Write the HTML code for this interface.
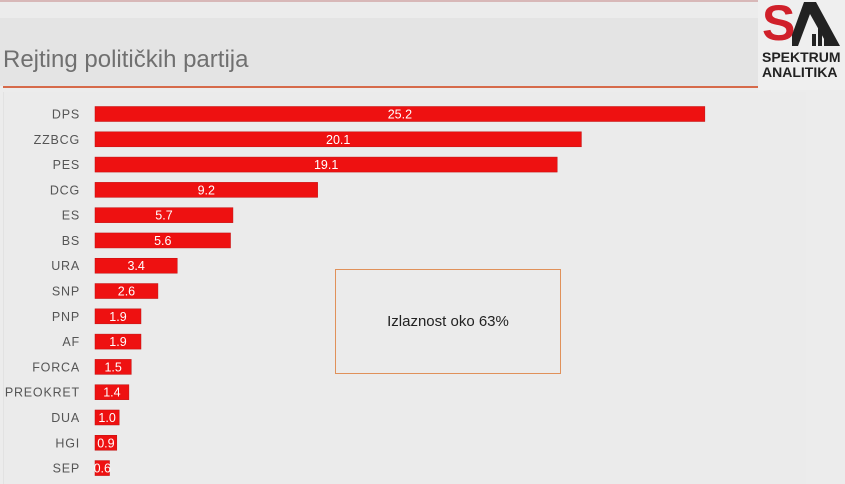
<!DOCTYPE html>
<html><head><meta charset="utf-8"><style>
body{margin:0;width:845px;height:484px;overflow:hidden;background:#ececec;font-family:"Liberation Sans",sans-serif;position:relative}
</style></head><body>
<div style="position:absolute;left:0;top:0;width:845px;height:2px;background:#d8b8b8"></div>
<div style="position:absolute;left:0;top:18px;width:805px;height:68px;background:#e4e4e4"></div>
<div style="position:absolute;left:3px;top:46px;font-size:24px;color:#707070;font-weight:300">Rejting političkih partija</div>
<div style="position:absolute;left:3px;top:86px;width:802px;height:2px;background:#d66a4a"></div>
<div style="position:absolute;left:758px;top:0;width:87px;height:90px;background:#efefef">
<div style="position:absolute;left:4px;top:-6px;font-size:50px;font-weight:bold;color:#d0202a;letter-spacing:-4px">S</div>
<svg style="position:absolute;left:34px;top:2px" width="52" height="44"><polygon points="12,0 24,0 48,44 36,44 18,12 6,44 -4,44" fill="#222"/><rect x="20" y="32" width="4" height="12" fill="#222"/><rect x="26" y="26" width="4" height="18" fill="#222"/><rect x="32" y="22" width="4" height="22" fill="#222"/></svg>
<div style="position:absolute;left:4px;top:50px;font-size:14px;font-weight:bold;color:#222;line-height:15px">SPEKTRUM<br>ANALITIKA</div>
</div>
<div style="position:absolute;left:3px;top:92px;width:802px;height:392px;background:#ebebeb;border-left:1px solid #e2e2e2"></div>
<svg id="chart" width="845" height="484" style="position:absolute;left:0;top:0"></svg>
<div style="position:absolute;left:335px;top:269px;width:224px;height:103px;border:1px solid #e0915a;display:flex;align-items:center;justify-content:center;font-size:15px;color:#222">Izlaznost oko 63%</div>
<script>
const categories=["DPS","ZZBCG","PES","DCG","ES","BS","URA","SNP","PNP","AF","FORCA","PREOKRET","DUA","HGI","SEP"];
const values=[25.2,20.1,19.1,9.2,5.7,5.6,3.4,2.6,1.9,1.9,1.5,1.4,1.0,0.9,0.6];
const labels=["25.2","20.1","19.1","9.2","5.7","5.6","3.4","2.6","1.9","1.9","1.5","1.4","1.0","0.9","0.6"];
const svg=document.getElementById('chart');const NS="http://www.w3.org/2000/svg";
const x=v=>95+v*24.2;const y=i=>114+i*25.29;
categories.forEach((c,i)=>{
const r=document.createElementNS(NS,'rect');


r.setAttribute('x',95);r.setAttribute('y',y(i)-7.5);r.setAttribute('width',x(values[i])-95);r.setAttribute('height',15);r.setAttribute('fill','#ee1111');r.setAttribute('stroke','#c01010');r.setAttribute('stroke-width','0.5');svg.appendChild(r);
const t=document.createElementNS(NS,'text');


t.setAttribute('x',80);t.setAttribute('y',y(i)+4.5);t.setAttribute('text-anchor','end');t.setAttribute('font-size','12.5');t.setAttribute('fill','#555');t.setAttribute('letter-spacing','0.8');t.textContent=c;svg.appendChild(t);
const v=document.createElementNS(NS,'text');


v.setAttribute('x',(95+x(values[i]))/2);v.setAttribute('y',y(i)+4.5);v.setAttribute('text-anchor','middle');v.setAttribute('font-size','12.5');v.setAttribute('fill','#fff');v.textContent=labels[i];svg.appendChild(v);
});
</script>
</body></html>
